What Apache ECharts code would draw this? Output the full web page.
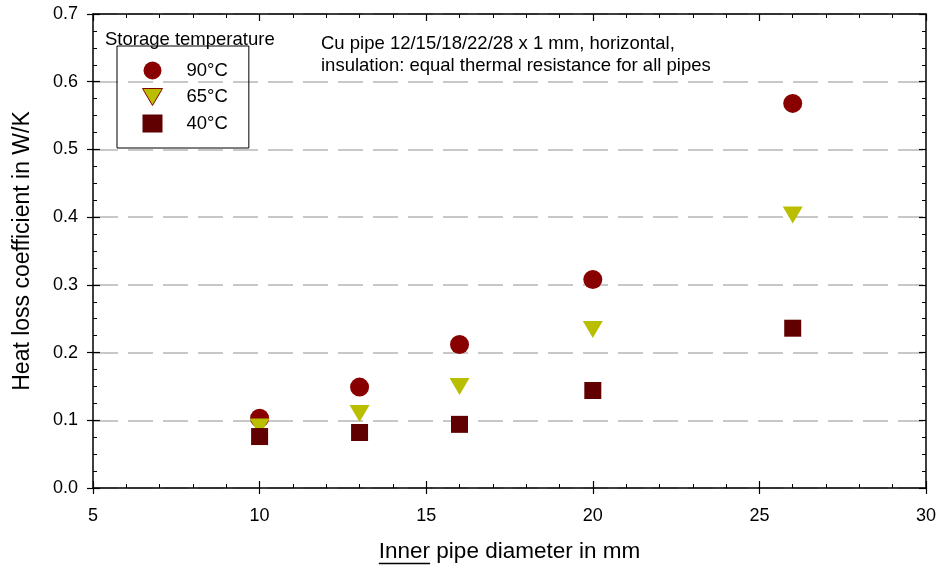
<!DOCTYPE html>
<html><head><meta charset="utf-8">
<script src="https://cdn.jsdelivr.net/npm/echarts@6/dist/echarts.min.js"></script>
<style>html,body{margin:0;padding:0;background:#fff}#c{width:940px;height:568px}</style>
</head><body><div id="c"></div>
<script>
const diameters = [10, 13, 16, 20, 26];
const loss90 = [0.103, 0.149, 0.212, 0.308, 0.568];
const loss65 = [0.090, 0.110, 0.150, 0.234, 0.403];
const loss40 = [0.076, 0.082, 0.094, 0.144, 0.236];
const seriesNames = ['90°C', '65°C', '40°C'];
const xTicks = [5, 10, 15, 20, 25, 30];
const yTicks = [0.0, 0.1, 0.2, 0.3, 0.4, 0.5, 0.6, 0.7];

const FONT = '"Liberation Sans", Arial, Helvetica, sans-serif';
const chart = echarts.init(document.getElementById('c'));
const pair = (ys) => diameters.map((d, i) => [d, ys[i]]);

const XMIN = xTicks[0], XMAX = xTicks[xTicks.length - 1];
const YMIN = yTicks[0], YMAX = yTicks[yTicks.length - 1];

const line = { show: true, onZero: false, lineStyle: { color: '#000', width: 1.5 } };
const tickIn = { show: true, inside: true, length: 7, lineStyle: { color: '#000', width: 1.2 } };
const minor = (n) => ({ show: true, splitNumber: n, length: 4, lineStyle: { color: '#000', width: 1 } });

chart.setOption({
  animation: false,
  backgroundColor: '#fff',
  textStyle: { fontFamily: FONT },
  grid: { left: 93, right: 14, top: 14, bottom: 80, outerBoundsMode: 'none' },
  title: {
    text: 'Storage temperature', left: 100, top: 25,
    textStyle: { fontFamily: FONT, fontSize: 18.5, fontWeight: 'normal', color: '#000' }
  },
  legend: {
    orient: 'vertical', left: 117, top: 46,
    padding: [15, 21, 15, 25], itemGap: 7.5, itemWidth: 20, itemHeight: 18,
    borderColor: '#000', borderWidth: 1,
    textStyle: { fontFamily: FONT, fontSize: 18.5, color: '#000', padding: [0, 0, 0, 19] },
    data: [
      { name: seriesNames[0] },
      { name: seriesNames[1], icon: 'path://M0,0L20,0L10,17Z', itemStyle: { borderColor: '#880000', borderWidth: 1 } },
      { name: seriesNames[2] }
    ]
  },
  xAxis: [
    {
      type: 'value', position: 'bottom', min: XMIN, max: XMAX, interval: 5,
      axisLine: line, axisTick: tickIn, minorTick: minor(5),
      splitLine: { show: false },
      axisLabel: { fontFamily: FONT, fontSize: 18, color: '#000', margin: 19 },
      name: 'Inner pipe diameter in mm', nameLocation: 'middle', nameGap: 52,
      nameTextStyle: { fontFamily: FONT, fontSize: 22.5, color: '#000' }
    },
    {
      type: 'value', position: 'top', min: XMIN, max: XMAX, interval: 5,
      axisLine: line, axisTick: tickIn, minorTick: minor(5),
      splitLine: { show: false }, axisLabel: { show: false }
    },
    {
      type: 'value', position: 'bottom', min: XMIN, max: XMAX, interval: 5,
      axisLine: { show: false }, axisTick: { show: true, inside: false, length: 6, lineStyle: { color: '#000', width: 1.2 } },
      splitLine: { show: false }, axisLabel: { show: false }
    }
  ],
  yAxis: [
    {
      type: 'value', position: 'left', min: YMIN, max: YMAX, interval: 0.1,
      axisLine: line, axisTick: tickIn, minorTick: minor(4),
      splitLine: { show: true, lineStyle: { color: '#c8c8c8', width: 1.8, type: [25, 10] } },
      axisLabel: { fontFamily: FONT, fontSize: 18, color: '#000', margin: 15, formatter: (v) => v.toFixed(1) },
      name: 'Heat loss coefficient in W/K', nameLocation: 'middle', nameGap: 59,
      nameTextStyle: { fontFamily: FONT, fontSize: 23, color: '#000' }
    },
    {
      type: 'value', position: 'right', min: YMIN, max: YMAX, interval: 0.1,
      axisLine: line, axisTick: tickIn, minorTick: minor(4),
      splitLine: { show: false }, axisLabel: { show: false }
    },
    {
      type: 'value', position: 'left', min: YMIN, max: YMAX, interval: 0.1,
      axisLine: { show: false }, axisTick: { show: true, inside: false, length: 6, lineStyle: { color: '#000', width: 1.2 } },
      splitLine: { show: false }, axisLabel: { show: false }
    }
  ],
  series: [
    { name: seriesNames[0], type: 'scatter', data: pair(loss90), symbol: 'circle', symbolSize: 19,
      itemStyle: { color: '#880000', opacity: 1 }, z: 3 },
    { name: seriesNames[1], type: 'scatter', data: pair(loss65), symbol: 'triangle', symbolRotate: 180, symbolSize: [20, 17],
      itemStyle: { color: '#b9bf00', opacity: 1 }, z: 4 },
    { name: seriesNames[2], type: 'scatter', data: pair(loss40), symbol: 'rect', symbolSize: 17,
      itemStyle: { color: '#600000', opacity: 1 }, z: 5 }
  ]
});

// annotation text and underline for "Inner"
(function () {
  const mid = chart.convertToPixel({ xAxisIndex: 0 }, (XMIN + XMAX) / 2);
  const ctx = document.createElement('canvas').getContext('2d');
  ctx.font = '22.5px ' + FONT;
  const full = ctx.measureText('Inner pipe diameter in mm').width;
  const inner = ctx.measureText('Inner').width;
  const x0 = mid - full / 2;
  chart.setOption({ graphic: [
    { type: 'text', left: 321, top: 33, style: { text: 'Cu pipe 12/15/18/22/28 x 1 mm, horizontal,\ninsulation: equal thermal resistance for all pipes', font: '18.5px ' + FONT, fill: '#000', lineHeight: 22 } },
    { type: 'line', shape: { x1: x0, y1: 563.5, x2: x0 + inner, y2: 563.5 }, style: { stroke: '#000', lineWidth: 1.3 } }
  ] });
})();
</script></body></html>
